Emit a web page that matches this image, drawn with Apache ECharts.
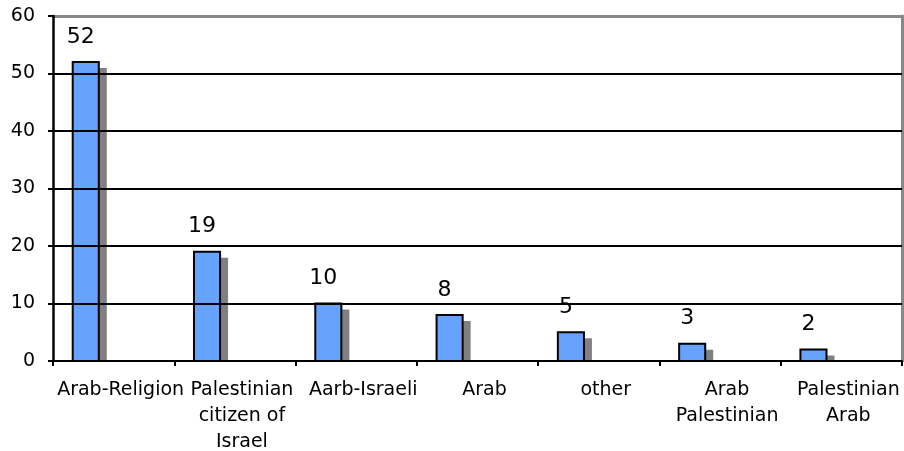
<!DOCTYPE html>
<html>
<head>
<meta charset="utf-8">
<style>
  html, body { margin: 0; padding: 0; background: #ffffff; }
  #chart { width: 904px; height: 451px; }
</style>
<script src="https://cdn.jsdelivr.net/npm/echarts@6/dist/echarts.min.js"></script>
</head>
<body>
<div id="chart"></div>
<script>
// Identity labels and the share of respondents choosing each one
const categories = [
  'Arab-Religion',
  'Palestinian\ncitizen of\nIsrael',
  'Aarb-Israeli',
  'Arab',
  'other',
  'Arab\nPalestinian',
  'Palestinian\nArab'
];
const values = [52, 19, 10, 8, 5, 3, 2];
const yTicks = { min: 0, max: 60, interval: 10 };

const FONT = 'DejaVu Sans';

// Bar geometry relative to the category band
const BAR_FRAC = 0.215;     // bar width / band width
const SHIFT_FRAC = 0.23;    // bar centre sits left of the band centre
const SHADOW_DX = 7;
const SHADOW_DY = 6;

function renderBar(params, api) {
  const idx = api.value(0);
  const v = api.value(1);
  const top = api.coord([idx, v]);
  const base = api.coord([idx, 0]);
  const band = api.size([1, 0])[0];
  const w = band * BAR_FRAC;
  const cx = top[0] - band * SHIFT_FRAC;
  const x = cx - w / 2;
  const h = base[1] - top[1];
  const shadowTop = Math.min(top[1] + SHADOW_DY, base[1]);
  return {
    type: 'group',
    children: [
      {
        type: 'rect',
        shape: { x: x + SHADOW_DX, y: shadowTop, width: w + 1, height: base[1] - shadowTop },
        style: { fill: '#808080' }
      },
      {
        type: 'rect',
        shape: { x: x, y: top[1], width: w, height: h },
        style: { fill: '#66a3ff', stroke: '#000', lineWidth: 2 }
      },
      {
        type: 'text',
        x: cx - 5,
        y: top[1] - 14,
        style: {
          text: String(v),
          fill: '#000',
          font: '22px "' + FONT + '"',
          align: 'center',
          verticalAlign: 'bottom'
        }
      }
    ]
  };
}

const chart = echarts.init(document.getElementById('chart'), null, { renderer: 'canvas' });

chart.setOption({
  animation: false,
  backgroundColor: '#ffffff',
  textStyle: { fontFamily: FONT, color: '#000' },
  grid: { left: 53, right: 2, top: 16, bottom: 90, containLabel: false, outerBoundsMode: 'none' },
  xAxis: [
    {
      type: 'category',
      data: categories,
      z: 5,
      boundaryGap: true,
      axisLine: { show: true, onZero: false, lineStyle: { color: '#000', width: 2 } },
      axisTick: { show: true, length: 5, lineStyle: { color: '#000', width: 2 } },
      axisLabel: {
        interval: 0, margin: 16, color: '#000', fontFamily: FONT,
        fontSize: 19, lineHeight: 26, align: 'center', padding: [0, 0, 0, 14]
      },
      splitLine: { show: false }
    },
    {
      // plot-area frame, top edge
      type: 'category',
      data: categories,
      position: 'top',
      z: 1,
      axisLine: { show: true, onZero: false, lineStyle: { color: '#888888', width: 3 } },
      axisTick: { show: false },
      axisLabel: { show: false },
      splitLine: { show: false }
    }
  ],
  yAxis: [
    {
      type: 'value',
      min: yTicks.min,
      max: yTicks.max,
      interval: yTicks.interval,
      z: 5,
      axisLine: { show: true, onZero: false, lineStyle: { color: '#000', width: 2.5 } },
      axisTick: { show: true, length: 5, lineStyle: { color: '#000', width: 2 } },
      axisLabel: { margin: 18, color: '#000', fontFamily: FONT, fontSize: 19 },
      splitLine: { show: true, showMinLine: false, showMaxLine: false,
                   lineStyle: { color: '#000', width: 2 } }
    },
    {
      // plot-area frame, right edge
      type: 'value',
      position: 'right',
      min: yTicks.min,
      max: yTicks.max,
      interval: yTicks.interval,
      z: 1,
      axisLine: { show: true, onZero: false, lineStyle: { color: '#888888', width: 3 } },
      axisTick: { show: false },
      axisLabel: { show: false },
      splitLine: { show: false }
    }
  ],
  series: [
    {
      type: 'custom',
      name: 'responses',
      z: 2,
      renderItem: renderBar,
      encode: { x: 0, y: 1 },
      data: values.map((v, i) => [i, v])
    }
  ]
});
</script>
</body>
</html>
